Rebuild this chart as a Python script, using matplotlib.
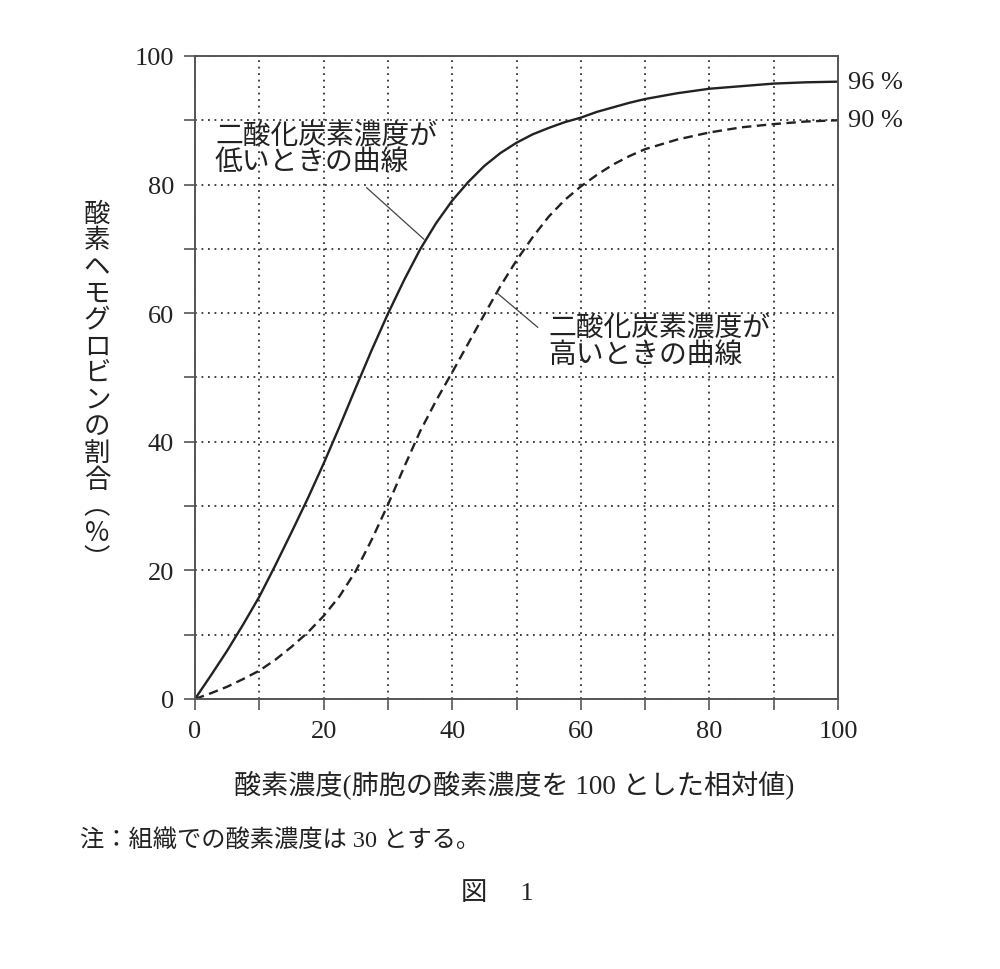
import matplotlib
matplotlib.use('Agg')
import matplotlib.pyplot as plt
from matplotlib.ticker import MultipleLocator

# ---------------------------------------------------------------------
#  Dados
# ---------------------------------------------------------------------

oxigenio = [0, 2.5, 5, 7.5, 10, 12.5, 15, 17.5, 20, 22.5, 25, 27.5, 30, 32.5, 35, 37.5,
            40, 42.5, 45, 47.5, 50, 52.5, 55, 57.5, 60, 62.5, 65, 67.5, 70, 75, 80, 85, 90, 95, 100]
co2_baixo = [0, 3.7, 7.5, 11.6, 15.9, 20.8, 25.9, 31.1, 36.6, 42.4, 48.4, 54.3, 59.9, 65.1, 69.9, 74.0,
             77.5, 80.4, 82.9, 84.9, 86.5, 87.8, 88.8, 89.7, 90.4, 91.3, 92.0, 92.7, 93.3, 94.2, 94.9,
             95.3, 95.7, 95.9, 96]
co2_alto = [0, 0.9, 1.9, 3.1, 4.4, 6.1, 8.1, 10.3, 12.9, 16, 19.9, 24.8, 30.2, 36, 41.6, 46.4,
            50.8, 55.3, 59.8, 64.2, 68.2, 71.8, 75.0, 77.6, 79.7, 81.5, 83.1, 84.4, 85.5, 87, 88.1,
            88.9, 89.4, 89.8, 90]

ticks_principais = [0, 20, 40, 60, 80, 100]
rotulo_baixo = '二酸化炭素濃度が\n低いときの曲線'
rotulo_alto = '二酸化炭素濃度が\n高いときの曲線'
rotulo_y = '酸素ヘモグロビンの割合︵%︶'
rotulo_x = '酸素濃度(肺胞の酸素濃度を 100 とした相対値)'
nota = '注：組織での酸素濃度は 30 とする。'
figura = '図　 1'

fontes = ['Liberation Serif', 'Noto Sans CJK JP', 'DejaVu Sans']
plt.rcParams['font.family'] = fontes

cor_eixo = '#555555'
cor_texto = '#222222'

# ---------------------------------------------------------------------
#  Gráfico
# ---------------------------------------------------------------------

fig = plt.figure(figsize=(10, 9.7), dpi=100)
ax = fig.add_axes([0.195, 0.2784, 0.643, 0.6629])

ax.plot(oxigenio, co2_baixo, color=cor_texto, linewidth=1.7, solid_capstyle='round')
ax.plot(oxigenio, co2_alto, color=cor_texto, linewidth=1.7, linestyle=(0, (4, 2.3)))

ax.set_xlim(0, 100)
ax.set_ylim(0, 100)
ax.set_xticks(ticks_principais)
ax.set_yticks(ticks_principais)
ax.xaxis.set_minor_locator(MultipleLocator(10))
ax.yaxis.set_minor_locator(MultipleLocator(10))
ax.tick_params(which='both', direction='out', length=8, width=1.2, color=cor_eixo,
               labelsize=19, pad=7, labelcolor=cor_texto)
ax.grid(True, which='both', linestyle=(0, (1, 2.6)), color='#333333', linewidth=1.3)

for lado in ax.spines.values():
    lado.set_color(cor_eixo)
    lado.set_linewidth(1.4)

# rótulos das curvas
ax.text(3.1, 89.5, rotulo_baixo, fontsize=20, va='top', ha='left',
        linespacing=1.0, color=cor_texto)
ax.plot([26.7, 35.6], [79.5, 71.5], color='#444444', linewidth=0.9)

ax.text(54.9, 59.6, rotulo_alto, fontsize=20, va='top', ha='left',
        linespacing=1.0, color=cor_texto)
ax.plot([46.9, 53.3], [63.2, 57.8], color='#444444', linewidth=0.9)

# valores finais
ax.text(101.5, co2_baixo[-1], '96 %', fontsize=19, va='center', ha='left',
        color=cor_texto, clip_on=False)
ax.text(101.5, co2_alto[-1], '90 %', fontsize=19, va='center', ha='left',
        color=cor_texto, clip_on=False)

# eixo y em texto vertical
fig.text(0.097, 0.601, '\n'.join(rotulo_y), fontsize=19, ha='center', va='center',
         linespacing=0.98, color=cor_texto, family=['Noto Sans CJK JP', 'DejaVu Sans'])

fig.text(0.514, 0.191, rotulo_x, fontsize=19.5, ha='center', va='center', color=cor_texto)
fig.text(0.08, 0.134, nota, fontsize=17.5, ha='left', va='center', color=cor_texto)
fig.text(0.497, 0.079, figura, fontsize=19, ha='center', va='center', color=cor_texto)

plt.savefig('out.png', dpi=100)
plt.close()
